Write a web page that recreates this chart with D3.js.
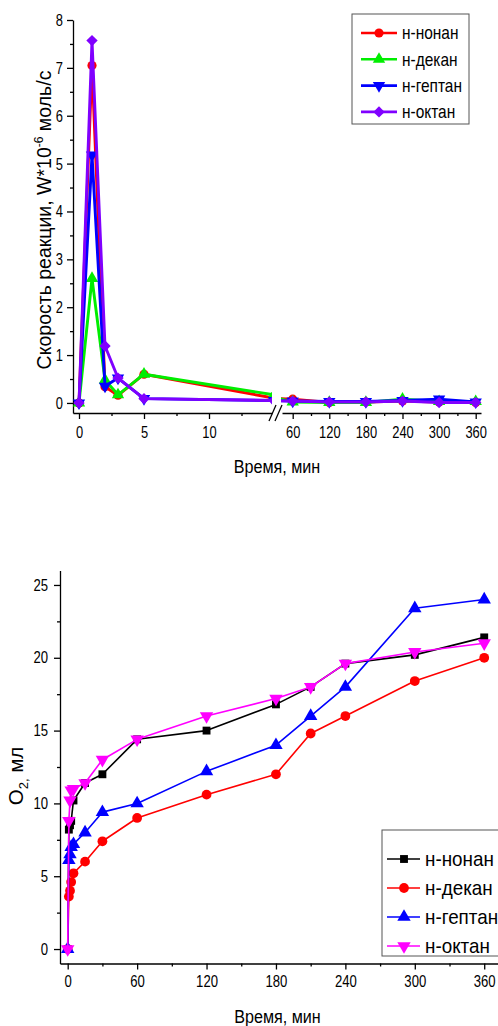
<!DOCTYPE html>
<html><head><meta charset="utf-8">
<script src="https://cdn.jsdelivr.net/npm/d3@7"></script>
<style>
html,body{margin:0;padding:0;background:#fff;}
svg{display:block;}
text{font-family:"Liberation Sans",Arial,sans-serif;fill:#000;}
</style></head><body>
<svg id="c" width="498" height="1026"></svg>
<script>
// ---------- DATA ----------
const topNames = ["н-нонан", "н-декан", "н-гептан", "н-октан"];
const topTimes = [0, 1, 2, 3, 5, 15, 60, 120, 180, 240, 300, 360];
const topNonan  = [0, 7.05, 0.34, 0.16, 0.60, 0.10, 0.08, 0.01, 0.02, 0.04, 0.02, 0.01];
const topDekan  = [0, 2.60, 0.48, 0.17, 0.60, 0.17, 0.02, 0.01, 0.01, 0.08, 0.03, 0.03];
const topGeptan = [0, 5.18, 0.35, 0.52, 0.09, 0.05, 0.04, 0.03, 0.03, 0.05, 0.08, 0.02];
const topOktan  = [0, 7.57, 1.19, 0.52, 0.09, 0.05, 0.04, 0.02, 0.02, 0.04, 0.01, 0.01];
const topLeftTicks = [0, 5, 10];
const topLeftMinor = [2.5, 7.5, 12.5];
const topRightTicks = [60, 120, 180, 240, 300, 360];
const topRightMinor = [90, 150, 210, 270, 330];
const topYTicks = [0, 1, 2, 3, 4, 5, 6, 7, 8];
const topYMinor = [0.5, 1.5, 2.5, 3.5, 4.5, 5.5, 6.5, 7.5];

const botNames = ["н-нонан", "н-декан", "н-гептан", "н-октан"];
const botTimes  = [0, 1, 2, 3, 5, 15, 30, 60, 120, 180, 210, 240, 300, 360];
const botNonan  = [0, 8.2, 8.5, 8.8, 10.2, 11.4, 12.0, 14.4, 15.0, 16.8, 18.0, 19.6, 20.2, 21.4];
const botDekan  = [0, 3.6, 4.0, 4.6, 5.2, 6.0, 7.4, 9.0, 10.6, 12.0, 14.8, 16.0, 18.4, 20.0];
const botGeptan = [0, 6.1, 6.5, 7.0, 7.2, 8.0, 9.4, 10.0, 12.2, 14.0, 16.0, 18.0, 23.4, 24.0];
const botOktan  = [0, 8.8, 10.2, 10.9, 11.0, 11.4, 13.0, 14.4, 16.0, 17.2, 18.0, 19.6, 20.4, 21.0];
const botXTicks = [0, 60, 120, 180, 240, 300, 360];
const botXMinor = [30, 90, 150, 210, 270, 330];
const botYTicks = [0, 5, 10, 15, 20, 25];
const botYMinor = [2.5, 7.5, 12.5, 17.5, 22.5];

// ---------- HELPERS ----------
const svg = d3.select("#c");
const FONT = '"Liberation Sans",Arial,sans-serif';

function squeeze(sel, sx, origin) {
  sel.style("transform-box", "fill-box")
     .style("transform-origin", origin + " center")
     .style("transform", "scaleX(" + sx + ")");
}
function symPath(shape, size) {
  if (shape === "circle") return d3.symbol(d3.symbolCircle, size)();
  if (shape === "square") return d3.symbol(d3.symbolSquare, size)();
  if (shape === "diamond") return d3.symbol(d3.symbolSquare, size)();
  return d3.symbol(d3.symbolTriangle, size)();
}
function symRot(shape) {
  if (shape === "down") return " rotate(180)";
  if (shape === "diamond") return " rotate(45)";
  return "";
}
function styleAxis(g, w) {
  g.selectAll("path.domain").attr("stroke", "#000").attr("stroke-width", w);
  g.selectAll(".tick line").attr("stroke", "#000").attr("stroke-width", w);
}

// ================= TOP CHART =================
const tY = d3.scaleLinear().domain([-0.21, 8]).range([413, 20]);
const tXL = d3.scaleLinear().domain([(73 - 79) / 13, (272 - 79) / 13]).range([73, 272]);
const tXR = d3.scaleLinear().domain([60 - 10.7 / 0.61, 60 + 188.3 / 0.61]).range([282, 481]);

const topSeries = [
  {name: topNames[0], values: topNonan, color: "#ff0000", shape: "circle", size: 66},
  {name: topNames[1], values: topDekan, color: "#00ee00", shape: "up", size: 66},
  {name: topNames[2], values: topGeptan, color: "#0000ff", shape: "down", size: 66},
  {name: topNames[3], values: topOktan, color: "#8000ff", shape: "diamond", size: 64}
];

const defs = svg.append("defs");
defs.append("clipPath").attr("id", "clipL").append("rect")
  .attr("x", 60).attr("y", 0).attr("width", 272 - 60).attr("height", 430);
defs.append("clipPath").attr("id", "clipR").append("rect")
  .attr("x", 281).attr("y", 0).attr("width", 230).attr("height", 430);

// axes
const gTop = svg.append("g");
const yAxT = gTop.append("g").attr("transform", "translate(73,0)")
  .call(d3.axisLeft(tY).tickValues(topYTicks).tickSize(6).tickSizeOuter(0).tickPadding(4));
const yAxTm = gTop.append("g").attr("transform", "translate(73,0)")
  .call(d3.axisLeft(tY).tickValues(topYMinor).tickSize(3).tickSizeOuter(0).tickFormat(""));
yAxTm.select(".domain").remove();
styleAxis(yAxT, 1.3);
styleAxis(yAxTm, 1.3);

const xAxTL = gTop.append("g").attr("transform", "translate(0,413)")
  .call(d3.axisBottom(tXL).tickValues(topLeftTicks).tickSize(6).tickSizeOuter(0).tickPadding(8));
const xAxTLm = gTop.append("g").attr("transform", "translate(0,413)")
  .call(d3.axisBottom(tXL).tickValues(topLeftMinor).tickSize(3).tickSizeOuter(0).tickFormat(""));
xAxTLm.select(".domain").remove();
const xAxTR = gTop.append("g").attr("transform", "translate(0,413)")
  .call(d3.axisBottom(tXR).tickValues(topRightTicks).tickSize(6).tickSizeOuter(0).tickPadding(8));
const xAxTRm = gTop.append("g").attr("transform", "translate(0,413)")
  .call(d3.axisBottom(tXR).tickValues(topRightMinor).tickSize(3).tickSizeOuter(0).tickFormat(""));
xAxTRm.select(".domain").remove();
[xAxTL, xAxTLm, xAxTR, xAxTRm].forEach(g => styleAxis(g, 1.3));

// break marks
gTop.append("g").selectAll("line").data([272, 278]).join("line")
  .attr("x1", d => d - 3).attr("y1", 421).attr("x2", d => d + 4).attr("y2", 405)
  .attr("stroke", "#000").attr("stroke-width", 1.3);

// tick label styling
gTop.selectAll(".tick text").attr("font-family", FONT).attr("font-size", 17).attr("fill", "#000");
yAxT.selectAll(".tick text").call(s => squeeze(s, 0.76, "right"));
[xAxTL, xAxTR].forEach(g => g.selectAll(".tick text").attr("dy", "0.62em").call(s => squeeze(s, 0.76, "center")));

// lines & markers
function drawTopSegment(xs, clipId) {
  const g = svg.append("g").attr("clip-path", "url(#" + clipId + ")");
  topSeries.forEach(s => {
    const pts = topTimes.map((t, i) => [t, s.values[i]]);
    g.append("path").datum(pts)
      .attr("fill", "none").attr("stroke", s.color).attr("stroke-width", 2.9)
      .attr("stroke-linejoin", "round")
      .attr("d", d3.line().x(d => xs(d[0])).y(d => tY(d[1])));
    g.selectAll(null).data(pts).join("path")
      .attr("d", symPath(s.shape, s.size))
      .attr("transform", d => "translate(" + xs(d[0]) + "," + tY(d[1]) + ")" + symRot(s.shape))
      .attr("fill", s.color);
  });
}
drawTopSegment(tXL, "clipL");
drawTopSegment(tXR, "clipR");

// titles
svg.append("text").attr("x", 277).attr("y", 473).attr("text-anchor", "middle")
  .attr("font-size", 19).text("Время, мин").call(s => squeeze(s, 0.85, "center"));
const ylT = svg.append("text").attr("transform", "translate(51,220) rotate(-90)")
  .attr("text-anchor", "middle").attr("font-size", 19.5);
ylT.append("tspan").text("Скорость реакции, W*10");
ylT.append("tspan").attr("font-size", 12).attr("dy", -8).text("-6");
ylT.append("tspan").attr("dy", 8).text(" моль/с");

// legend
const legT = svg.append("g");
legT.append("rect").attr("x", 352).attr("y", 14).attr("width", 117).attr("height", 110)
  .attr("fill", "#fff").attr("stroke", "#555").attr("stroke-width", 1);
topSeries.forEach((s, i) => {
  const y = 33 + i * 26.3;
  legT.append("line").attr("x1", 361).attr("x2", 397).attr("y1", y).attr("y2", y)
    .attr("stroke", s.color).attr("stroke-width", 2.6);
  legT.append("path").attr("d", symPath(s.shape, s.size))
    .attr("transform", "translate(379," + y + ")" + symRot(s.shape)).attr("fill", s.color);
  legT.append("text").attr("x", 402).attr("y", y + 6.5).attr("font-size", 18).text(s.name)
    .call(t => squeeze(t, 0.86, "left"));
});

// ================= BOTTOM CHART =================
const bY = d3.scaleLinear().domain([-1, 26]).range([963.6, 570.4]);
const bX = d3.scaleLinear().domain([(60 - 67.7) / 1.157, (500 - 67.7) / 1.157]).range([60, 500]);

const botSeries = [
  {name: botNames[0], values: botNonan, color: "#000000", shape: "square", size: 62},
  {name: botNames[1], values: botDekan, color: "#ff0000", shape: "circle", size: 75},
  {name: botNames[2], values: botGeptan, color: "#0000ff", shape: "up", size: 78},
  {name: botNames[3], values: botOktan, color: "#ff00ff", shape: "down", size: 78}
];

const gB = svg.append("g");
const yAxB = gB.append("g").attr("transform", "translate(60,0)")
  .call(d3.axisLeft(bY).tickValues(botYTicks).tickSize(6).tickSizeOuter(0).tickPadding(6));
const yAxBm = gB.append("g").attr("transform", "translate(60,0)")
  .call(d3.axisLeft(bY).tickValues(botYMinor).tickSize(3).tickSizeOuter(0).tickFormat(""));
yAxBm.select(".domain").remove();
const xAxB = gB.append("g").attr("transform", "translate(0,963.5)")
  .call(d3.axisBottom(bX).tickValues(botXTicks).tickSize(6).tickSizeOuter(0).tickPadding(8));
const xAxBm = gB.append("g").attr("transform", "translate(0,963.5)")
  .call(d3.axisBottom(bX).tickValues(botXMinor).tickSize(3).tickSizeOuter(0).tickFormat(""));
xAxBm.select(".domain").remove();
[yAxB, yAxBm, xAxB, xAxBm].forEach(g => styleAxis(g, 1.3));
gB.selectAll(".tick text").attr("font-family", FONT).attr("font-size", 16).attr("fill", "#000");
yAxB.selectAll(".tick text").call(s => squeeze(s, 0.82, "right"));
xAxB.selectAll(".tick text").attr("dy", "0.62em").call(s => squeeze(s, 0.82, "center"));

const gBD = svg.append("g");
botSeries.forEach(s => {
  const pts = botTimes.map((t, i) => [t, s.values[i]]);
  gBD.append("path").datum(pts)
    .attr("fill", "none").attr("stroke", s.color).attr("stroke-width", 1.6)
    .attr("stroke-linejoin", "round")
    .attr("d", d3.line().x(d => bX(d[0])).y(d => bY(d[1])));
  gBD.selectAll(null).data(pts).join("path")
    .attr("d", symPath(s.shape, s.size))
    .attr("transform", d => "translate(" + bX(d[0]) + "," + bY(d[1]) + ")" + symRot(s.shape))
    .attr("fill", s.color);
});

svg.append("text").attr("x", 277.5).attr("y", 1023).attr("text-anchor", "middle")
  .attr("font-size", 19).text("Время, мин").call(s => squeeze(s, 0.85, "center"));
const ylB = svg.append("text").attr("transform", "translate(23,776) rotate(-90)")
  .attr("text-anchor", "middle").attr("font-size", 20.5);
ylB.append("tspan").text("O");
ylB.append("tspan").attr("font-size", 13).attr("dy", 5).text("2,");
ylB.append("tspan").attr("dy", -5).text(" мл");

const legB = svg.append("g");
legB.append("rect").attr("x", 382).attr("y", 830).attr("width", 130).attr("height", 126)
  .attr("fill", "#fff").attr("stroke", "#555").attr("stroke-width", 1);
botSeries.forEach((s, i) => {
  const y = 859 + i * 29;
  legB.append("line").attr("x1", 387).attr("x2", 420).attr("y1", y).attr("y2", y)
    .attr("stroke", s.color).attr("stroke-width", 1.6);
  legB.append("path").attr("d", symPath(s.shape, s.size))
    .attr("transform", "translate(404," + y + ")" + symRot(s.shape)).attr("fill", s.color);
  legB.append("text").attr("x", 425).attr("y", y + 7).attr("font-size", 20.5).text(s.name)
    .call(t => squeeze(t, 0.92, "left"));
});
</script>
</body></html>
